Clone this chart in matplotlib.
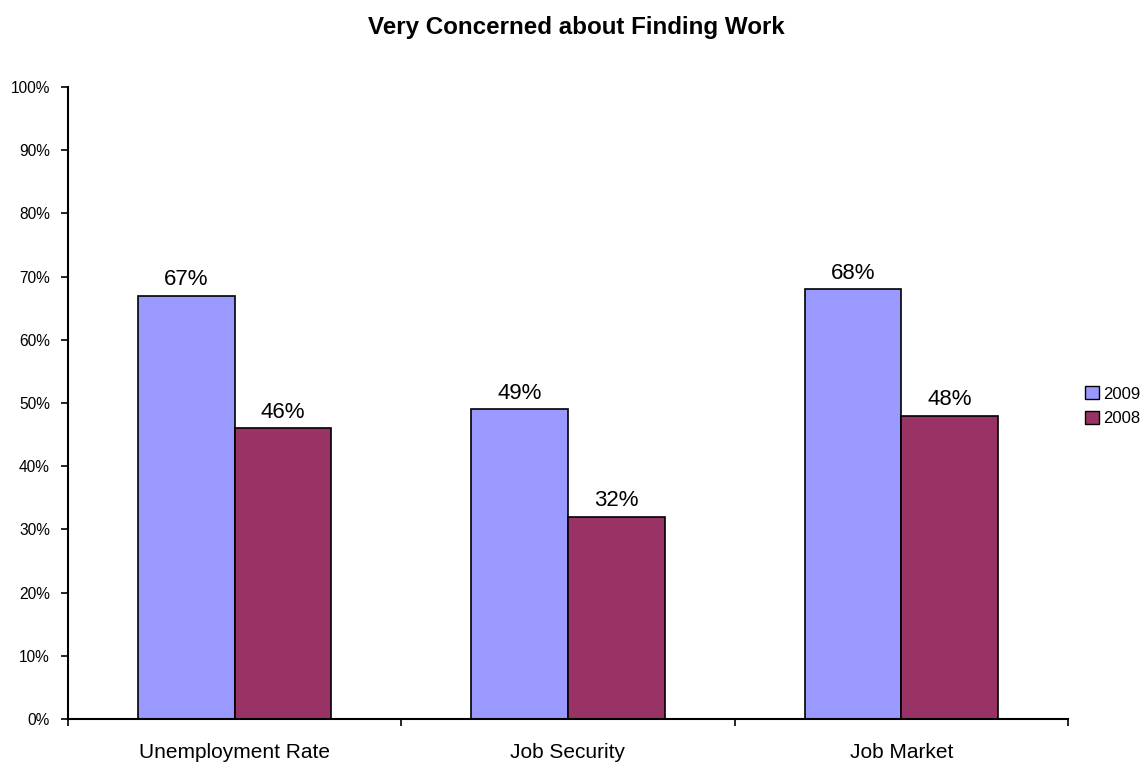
import numpy as np
import matplotlib.pyplot as plt
from matplotlib.patches import Patch

plt.rcParams['font.family'] = ['Liberation Sans', 'DejaVu Sans']

categories = ["Unemployment Rate", "Job Security", "Job Market"]
values_2009 = [67, 49, 68]
values_2008 = [46, 32, 48]
series_names = ["2009", "2008"]
colors = ["#9999FF", "#993366"]

fig = plt.figure(figsize=(11.44, 7.62), dpi=100)
ax = fig.add_axes([0.0594, 0.0564, 0.8742, 0.8294])

x = np.arange(len(categories))
w = 0.29
bars1 = ax.bar(x - w / 2, values_2009, w, color=colors[0], edgecolor="black", linewidth=1.2)
bars2 = ax.bar(x + w / 2, values_2008, w, color=colors[1], edgecolor="black", linewidth=1.2)

# подписи значений над столбцами
for bars in (bars1, bars2):
    for b in bars:
        ax.text(b.get_x() + b.get_width() / 2, b.get_height() + 0.9, f"{int(b.get_height())}%",
                ha="center", va="bottom", fontsize=16)

ax.set_xlim(-0.5, len(categories) - 0.5)
ax.set_ylim(0, 100)
ax.set_yticks(range(0, 101, 10))
ax.set_yticklabels([f"{v}%" for v in range(0, 101, 10)], fontsize=11.2)
ax.set_xticks(np.arange(-0.5, len(categories), 1.0))
ax.set_xticklabels([])
ax.set_xticks(x, minor=True)
ax.set_xticklabels(categories, minor=True, fontsize=15)
ax.tick_params(axis="x", which="minor", length=0, pad=17)
ax.tick_params(axis="x", which="major", length=5, width=1.2, direction="out")
ax.tick_params(axis="y", length=5, width=1.2, direction="out", pad=8)

for s in ("top", "right"):
    ax.spines[s].set_visible(False)
for s in ("left", "bottom"):
    ax.spines[s].set_linewidth(1.5)

handles = [Patch(facecolor=c, edgecolor="black", label=n) for c, n in zip(colors, series_names)]
fig.legend(handles=handles, loc="center left", bbox_to_anchor=(0.941, 0.467), frameon=False,
           fontsize=12, handlelength=0.85, handleheight=0.85, handletextpad=0.25, borderpad=0,
           labelspacing=0.55)

fig.suptitle("Very Concerned about Finding Work", fontsize=17.4, fontweight="bold",
             x=0.504, y=0.979)

plt.savefig("out.png", dpi=100)
